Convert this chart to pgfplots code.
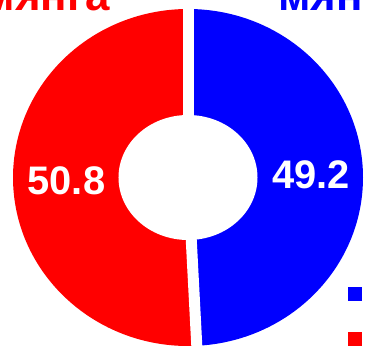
\documentclass[border=0pt]{standalone}
\usepackage{pgfplots}
\pgfplotsset{compat=1.18}
\usepackage{pgfplotstable}
\usepackage{fontspec}
\setmainfont{Liberation Sans}
\pgfplotstableread{
label value
Male 49.2
Female 50.8
}\piedata
\begin{document}
\begin{tikzpicture}
\pgfplotstablegetelem{0}{value}\of\piedata \let\vblue\pgfplotsretval
\pgfplotstablegetelem{1}{value}\of\piedata \let\vred\pgfplotsretval
\def\rx{175}\def\ry{168.5}\def\irx{69.5}\def\iry{62.5}
\pgfmathsetmacro{\aend}{90-3.6*\vblue}
\pgfmathsetmacro{\bmid}{90-1.8*\vblue}
\pgfmathsetmacro{\rmid}{\aend-1.8*\vred}
\pgfmathsetmacro{\bx}{\rx*cos(\aend)}
\pgfmathsetmacro{\by}{\ry*sin(\aend)}
\pgfmathsetmacro{\gx}{1.1*\rx*cos(\aend)}
\pgfmathsetmacro{\gy}{1.1*\ry*sin(\aend)}
\pgfmathsetmacro{\lbx}{0.705*\rx*cos(\bmid)}
\pgfmathsetmacro{\lby}{0.705*\ry*sin(\bmid)}
\pgfmathsetmacro{\lrx}{0.695*\rx*cos(\rmid)}
\pgfmathsetmacro{\lry}{0.695*\ry*sin(\rmid)}
\begin{axis}[hide axis, x=1bp, y=1bp,
  xmin=-188, xmax=177, ymin=-169.5, ymax=177.5,
  at={(0,0)}, anchor=south west, clip=false,
  legend style={at={(axis cs:160,-102)}, anchor=north west, draw=none, fill=none,
    inner sep=0pt, outer sep=0pt, row sep=17.5bp,
    font=\bfseries\fontsize{30}{30}\selectfont,
    nodes={inner sep=0pt, text height=20bp, text depth=8bp}},
  legend cell align=left]
\fill[blue] (axis cs:0,0) -- (axis cs:0,\ry)
  arc[start angle=90, end angle=\aend, x radius=\rx bp, y radius=\ry bp] -- cycle;
\fill[red] (axis cs:0,0) -- (axis cs:\bx,\by)
  arc[start angle=\aend, end angle=-270, x radius=\rx bp, y radius=\ry bp] -- cycle;
\fill[white] (axis cs:0,0) ellipse[x radius=\irx bp, y radius=\iry bp];
\draw[white, line width=11bp] (axis cs:0,0) -- (axis cs:0,190);
\draw[white, line width=11bp] (axis cs:0,0) -- (axis cs:\gx,\gy);
\node[white, font=\bfseries\fontsize{40}{40}\selectfont] at (axis cs:\lbx,\lby) {\vblue};
\node[white, font=\bfseries\fontsize{40}{40}\selectfont] at (axis cs:\lrx,\lry) {\vred};
\node[red, anchor=base east, inner sep=0pt, font=\bfseries\fontsize{44}{44}\selectfont] at (axis cs:-78,167.5) {мянга};
\node[blue, anchor=base west, inner sep=0pt, font=\bfseries\fontsize{44}{44}\selectfont] at (axis cs:90,167.5) {мянга};
\addlegendimage{legend image code/.code={\fill[blue] (0bp,-6.5bp) rectangle (13bp,6.5bp);}}
\addlegendentry{\hspace{8bp}Эрэгтэй}
\addlegendimage{legend image code/.code={\fill[red] (0bp,-6.5bp) rectangle (13bp,6.5bp);}}
\addlegendentry{\hspace{8bp}Эмэгтэй}
\end{axis}
\pgfresetboundingbox
\path[use as bounding box] (0,0) rectangle (365bp,347bp);
\end{tikzpicture}
\end{document}
